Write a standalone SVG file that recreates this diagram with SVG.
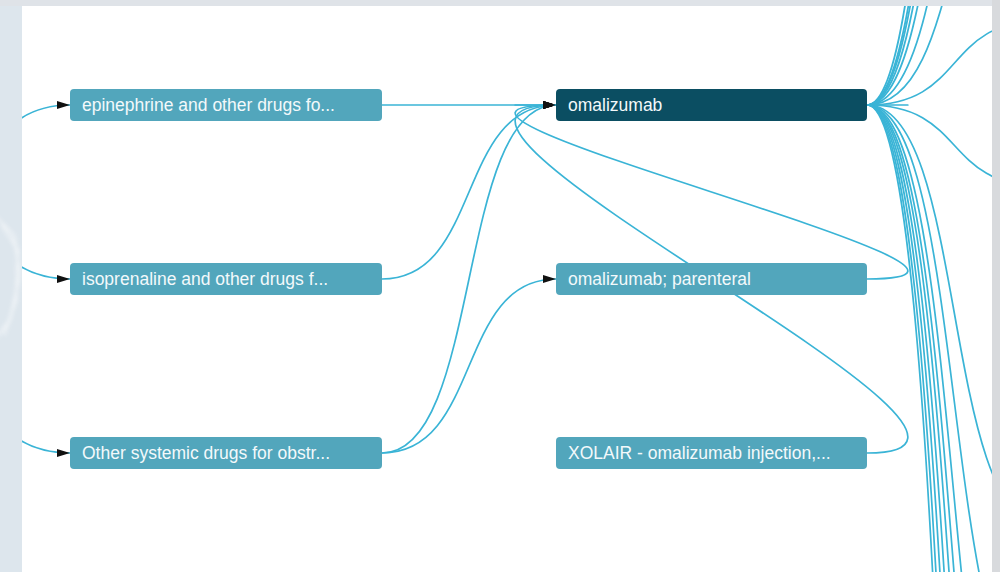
<svg xmlns="http://www.w3.org/2000/svg" width="1000" height="572" viewBox="0 0 1000 572">
  <defs>
    <style>
      .edge { fill: none; stroke: #3ab4d6; stroke-width: 1.7; }
      .node rect { fill: #52a6bc; }
      .node.active rect { fill: #0b4e62; }
      .node text { font-family: "Liberation Sans", Arial, sans-serif; font-size: 17.5px; fill: #f3f9fb; }
    </style>
    <marker id="arrow" markerUnits="userSpaceOnUse" markerWidth="13" markerHeight="10" refX="13" refY="5" orient="auto">
      <path d="M0,1 L13,5 L0,9 z" fill="#111"/>
    </marker>
    <clipPath id="panelClip">
      <rect x="22" y="6" width="970" height="566"/>
    </clipPath>
    <filter id="glow" x="-50%" y="-50%" width="200%" height="200%">
      <feGaussianBlur stdDeviation="2"/>
    </filter>
  </defs>

  <!-- background -->
  <rect x="0" y="0" width="1000" height="572" fill="#dfe3e8"/>
  <rect x="0" y="6" width="22" height="566" fill="#dde6ed"/>
  <rect x="992" y="0" width="8" height="572" fill="#d8dadd"/>
  <g opacity="0.8" filter="url(#glow)" fill="none" stroke="#ffffff" stroke-width="1.5">
    <path d="M-6,215 L14,235 L20,275 L10,320 L-6,340"/>
    <path d="M2,225 L18,250 L16,300 L4,335"/>
  </g>
  <rect x="22" y="6" width="970" height="566" fill="#ffffff"/>

  <!-- connectors -->
  <g id="connectors" clip-path="url(#panelClip)">
    <!-- incoming to first column -->
    <path class="edge" d="M-104,220 C-4,220 -30,105 70,105" marker-end="url(#arrow)"/>
    <path class="edge" d="M-104,173 C-4,173 -30,279 70,279" marker-end="url(#arrow)"/>
    <path class="edge" d="M-104,347 C-4,347 -30,453 70,453" marker-end="url(#arrow)"/>
    <!-- first column to second -->
    <path class="edge" d="M382,105 C482,105 456,105 556,105" marker-end="url(#arrow)"/>
    <path class="edge" d="M382,279 C482,279 456,105 556,105" marker-end="url(#arrow)"/>
    <path class="edge" d="M382,453 C482,453 456,105 556,105" marker-end="url(#arrow)"/>
    <path class="edge" d="M382,453 C482,453 456,279 556,279" marker-end="url(#arrow)"/>
    <!-- backward edges -->
    <path class="edge" d="M867,105 C1087,105 336,105 556,105" marker-end="url(#arrow)"/>
    <path class="edge" d="M867,279 C1087,279 336,105 556,105" marker-end="url(#arrow)"/>
    <path class="edge" d="M867,453 C1087,453 336,105 556,105" marker-end="url(#arrow)"/>
    <!-- fan out from omalizumab, upward -->
    <path class="edge" d="M867,105 C967,105 942,-1466 1042,-1466"/>
    <path class="edge" d="M867,105 C967,105 942,-1181 1042,-1181"/>
    <path class="edge" d="M867,105 C967,105 942,-1060 1042,-1060"/>
    <path class="edge" d="M867,105 C967,105 942,-885 1042,-885"/>
    <path class="edge" d="M867,105 C967,105 942,-687 1042,-687"/>
    <path class="edge" d="M867,105 C967,105 942,-416 1042,-416"/>
    <path class="edge" d="M867,105 C967,105 942,-188 1042,-188"/>
    <path class="edge" d="M867,105 C967,105 942,21 1042,21"/>
    <!-- fan out from omalizumab, downward -->
    <path class="edge" d="M867,105 C967,105 942,186 1042,186"/>
    <path class="edge" d="M867,105 C967,105 942,523 1042,523"/>
    <path class="edge" d="M867,105 C967,105 942,701 1042,701"/>
    <path class="edge" d="M867,105 C967,105 942,897 1042,897"/>
    <path class="edge" d="M867,105 C967,105 942,1052 1042,1052"/>
    <path class="edge" d="M867,105 C967,105 942,1196 1042,1196"/>
    <path class="edge" d="M867,105 C967,105 942,1381 1042,1381"/>
    <path class="edge" d="M867,105 C967,105 942,1583 1042,1583"/>
    <path class="edge" d="M867,105 C967,105 942,1816 1042,1816"/>
    <path class="edge" d="M867,105 C967,105 942,2051 1042,2051"/>
  </g>

  <!-- nodes -->
  <g id="node-epinephrine" class="node">
    <rect x="70" y="89" width="312" height="32" rx="4"/>
    <text x="82" y="111">epinephrine and other drugs fo...</text>
  </g>
  <g id="node-isoprenaline" class="node">
    <rect x="70" y="263" width="312" height="32" rx="4"/>
    <text x="82" y="285">isoprenaline and other drugs f...</text>
  </g>
  <g id="node-other-systemic" class="node">
    <rect x="70" y="437" width="312" height="32" rx="4"/>
    <text x="82" y="459">Other systemic drugs for obstr...</text>
  </g>
  <g id="node-omalizumab" class="node active">
    <rect x="556" y="89" width="311" height="32" rx="4"/>
    <text x="568" y="111">omalizumab</text>
  </g>
  <g id="node-omalizumab-parenteral" class="node">
    <rect x="556" y="263" width="311" height="32" rx="4"/>
    <text x="568" y="285">omalizumab; parenteral</text>
  </g>
  <g id="node-xolair" class="node">
    <rect x="556" y="437" width="311" height="32" rx="4"/>
    <text x="568" y="459">XOLAIR - omalizumab injection,...</text>
  </g>
</svg>
